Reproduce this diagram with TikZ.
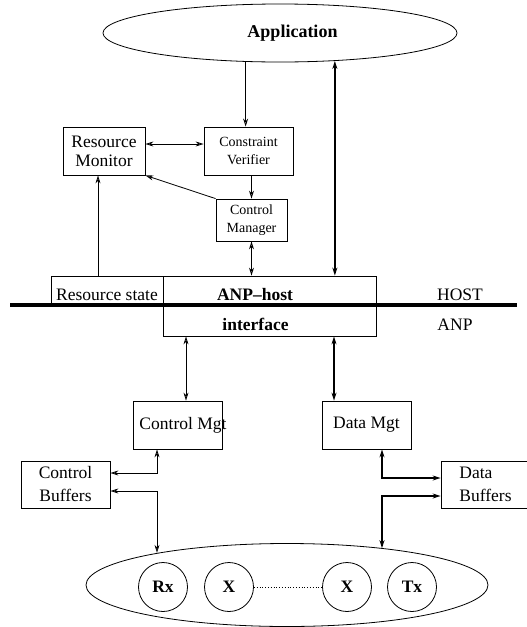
\documentclass[tikz,border=0pt]{standalone}
\usepackage{fontspec}
\setmainfont{Liberation Serif}
\usetikzlibrary{arrows.meta,shapes.geometric,calc}
\begin{document}
\begin{tikzpicture}[x=1pt,y=-1pt,
  every node/.style={font=\fontsize{17.5}{20}\selectfont, inner sep=0pt},
  box/.style={draw, line width=0.8pt, rectangle, align=center},
  smalltext/.style={font=\fontsize{14}{18}\selectfont},
  wire/.style={line width=0.8pt},
  bus/.style={line width=2pt},
  >={Stealth[length=8pt,width=5pt,open]}
]
\useasboundingbox (0,0) rectangle (527,627);
\clip (0,0) rectangle (527,627);

% application and host-side modules
\node[draw, line width=0.8pt, ellipse, minimum width=354pt, minimum height=58pt]
  (app) at (280,33) {};
\node (apptext) at (292.5,33) {\fontsize{18}{20}\selectfont\textbf{Application}};
\node[box, minimum width=82pt, minimum height=48pt,
  font=\fontsize{17.5}{19}\selectfont] (rm) at (104,151) {Resource\\Monitor};
\node[box, smalltext, minimum width=89pt, minimum height=48pt] (cv) at (248.5,151) {Constraint\\Verifier};
\node[box, smalltext, minimum width=71pt, minimum height=42pt] (cm) at (251.5,220) {Control\\Manager};

% ANP-host / interface boundary
\node[box, minimum width=112pt, minimum height=29pt] (rs) at (107,290.5) {};
\node[anchor=base] (rstext) at (107,300) {Resource state};
\node[box, minimum width=213pt, minimum height=29pt] (anphost) at (269.5,290.5) {};
\node[anchor=base] (anphosttext) at (255,300) {\textbf{ANP\textendash host}};
\node[box, minimum width=213pt, minimum height=31pt] (iface) at (269.5,320.5) {};
\node[anchor=base] (ifacetext) at (255.5,330.5) {\textbf{interface}};
\node[anchor=base] (host) at (460,300) {HOST};
\node[anchor=base] (anp) at (455,330.5) {ANP};
\coordinate (barl) at (10,305);
\coordinate (barr) at (517,305);
\draw[line width=4.5pt] (barl) -- (barr);

% ANP-side modules
\node[box, minimum width=89pt, minimum height=48pt] (cmgt) at (177.5,425) {};
\node (cmgttext) at (183,425) {Control Mgt};
\node[box, minimum width=89pt, minimum height=48pt] (dmgt) at (366.5,425) {Data Mgt};
\node[box, minimum width=89pt, minimum height=47pt,
  font=\fontsize{17.5}{23}\selectfont] (cbuf) at (65.5,484.5) {Control\\Buffers};
\node[box, minimum width=89pt, minimum height=47pt, align=left,
  font=\fontsize{17.5}{23}\selectfont] (dbuf) at (485.5,484.5) {Data\\Buffers};

% processing pipeline
\node[draw, line width=0.8pt, ellipse, minimum width=402pt, minimum height=83pt] (net) at (287,585) {};
\node[draw, wire, circle, minimum size=49pt] (rx) at (163,587) {\textbf{Rx}};
\node[draw, wire, circle, minimum size=49pt] (xa) at (229,587) {\textbf{X}};
\node[draw, wire, circle, minimum size=49pt] (xb) at (347,587) {\textbf{X}};
\node[draw, wire, circle, minimum size=49pt] (tx) at (412,587) {\textbf{Tx}};
\draw[wire, dotted] (xa) -- (xb);

% host-side connectors
\draw[wire, ->] (app.220) -- (app.220 |- cv.north);
\draw[bus, <->] (app.333) -- (app.333 |- anphost.north);
\draw[wire, <->] ([yshift=7pt]rm.east) -- ([yshift=7pt]cv.west);
\draw[wire, ->] (cm.north |- cv.south) -- (cm.north);
\draw[wire, ->] (cm.north west) -- (rm.south east);
\draw[wire, <->] (cm.south) -- (cm.south |- anphost.north);
\coordinate (rmin) at ([xshift=-6pt]rm.south);
\draw[wire, ->] (rmin |- rs.north) -- (rmin);

% ANP-side connectors
\coordinate (cmgtin) at ([xshift=8.5pt]cmgt.north);
\draw[wire, <->] (cmgtin |- iface.south) -- (cmgtin);
\coordinate (dmgtin) at ([xshift=-32.5pt]dmgt.north);
\draw[bus, <->] (dmgtin |- iface.south) -- (dmgtin);

\coordinate (cmgtout) at ([xshift=-20.5pt]cmgt.south);
\coordinate (cbufa) at ([yshift=11.5pt]cbuf.east);
\coordinate (cbufb) at ([yshift=-6.5pt]cbuf.east);
\draw[wire, <->] (cmgtout) |- (cbufa);
\draw[wire, <->] (cbufb) -| (cmgtout |- net.166);

\coordinate (dmgtout) at ([xshift=15.5pt]dmgt.south);
\coordinate (dbufa) at ([yshift=6.5pt]dbuf.west);
\coordinate (dbufb) at ([yshift=-11.5pt]dbuf.west);
\draw[bus, <->] (dmgtout) |- (dbufa);
\draw[bus, <->] (dbufb) -| (dmgtout |- net.21);
\end{tikzpicture}
\end{document}
